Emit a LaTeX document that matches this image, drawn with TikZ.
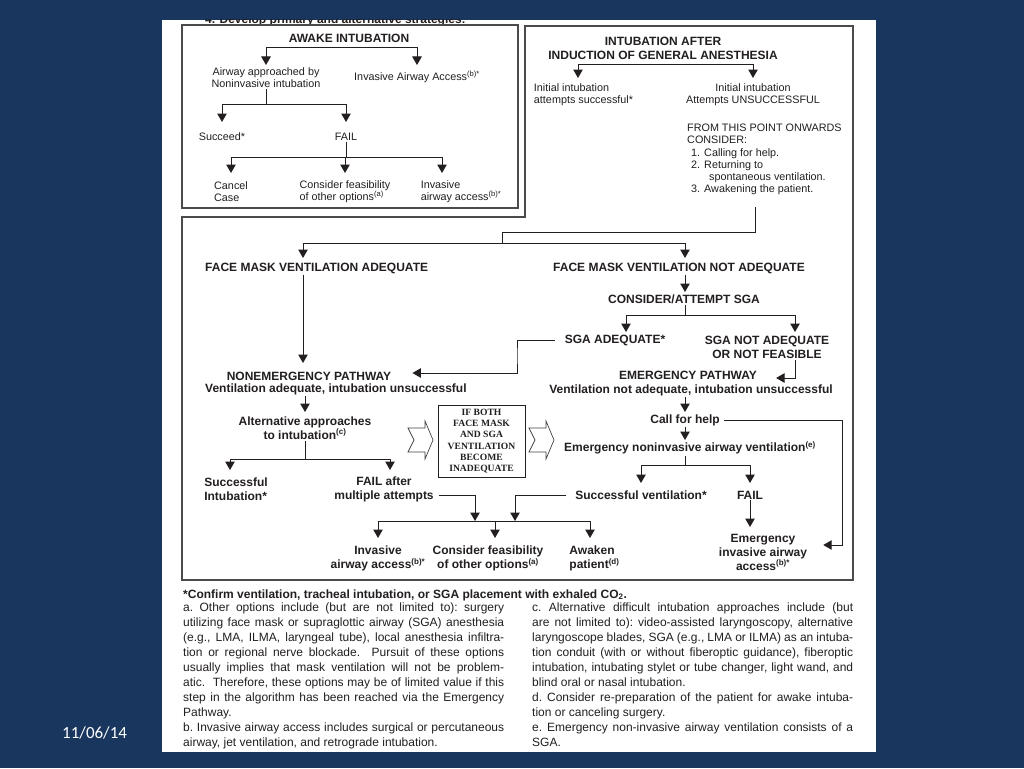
\documentclass[tikz,border=0pt]{standalone}
\usepackage{fontspec}
\setmainfont{Liberation Sans}
\newfontfamily\serifbox{Liberation Serif}
\newfontfamily\datefont{Carlito}
\usetikzlibrary{arrows.meta}
\definecolor{navy}{RGB}{24,54,94}
\definecolor{ink}{RGB}{35,31,32}
\definecolor{frame}{RGB}{75,75,75}
\begin{document}
\begin{tikzpicture}[x=1pt,y=-1pt,
  tn/.style={inner sep=1pt, text=ink, align=center, font=\fontsize{10.8}{12.2}\selectfont},
  tl/.style={tn, align=left},
  bn/.style={inner sep=1pt, text=ink, align=center, font=\bfseries\fontsize{12}{14}\selectfont},
  bl/.style={bn, align=left},
  ln/.style={draw=ink, line width=1pt},
  arr/.style={ln, -{Triangle[width=9.5pt,length=8.5pt]}},
  boxline/.style={draw=frame, line width=1.2pt},
  blk/.style={draw=ink!85, line width=0.7pt, line join=miter},
  foot/.style={inner sep=0pt, text=ink, align=justify, text width=321pt, anchor=north west, font=\fontsize{12}{14.9}\selectfont},
]
\useasboundingbox (0,0) rectangle (1024,768);
\fill[navy] (0,0) rectangle (1024,768);
\fill[white] (162,20) rectangle (876,752);
\node[anchor=west, text=white, inner sep=0pt, font=\datefont\fontsize{17}{20}\selectfont] (date) at (62,733) {11/06/14};

\begin{scope}
  \clip (162,20) rectangle (876,25);
  \node[anchor=base west, inner sep=0pt, text=ink, font=\bfseries\fontsize{12}{14}\selectfont] (hdr) at (205,23.5) {4. Develop primary and alternative strategies:};
\end{scope}

% frames
\draw[boxline] (182,25) rectangle (518,208);
\draw[boxline] (182,217) -- (525,217) -- (525,26) -- (853,26) -- (853,580) -- (182,580) -- cycle;

% tip rows
\coordinate (r1) at (0,65);
\coordinate (r2) at (0,122);
\coordinate (r3) at (0,173);
\coordinate (r4) at (0,78);
\coordinate (rA) at (0,258);
\coordinate (rB) at (0,292);
\coordinate (rC) at (0,332);
\coordinate (rD) at (0,363);
\coordinate (rE) at (0,412);
\coordinate (rF) at (0,470);
\coordinate (rG) at (0,440);
\coordinate (rH) at (0,483);
\coordinate (rI) at (0,527);
\coordinate (rJ) at (0,538);

% ---------- Box 1 : awake intubation
\node[bn] (aw) at (349,38) {AWAKE INTUBATION};
\coordinate (j1) at (349,48);
\node[tn] (ap) at (266,78) {Airway approached by\\Noninvasive intubation};
\node[tn] (iaa) at (417,77) {Invasive Airway Access\textsuperscript{(b)*}};
\draw[arr] (j1) -| (ap.north |- r1);
\draw[arr] (j1) -| (iaa.north |- r1);
\coordinate (j2) at (266,104);
\node[tn] (suc) at (222,137) {Succeed*};
\node[tn] (fail1) at (346,137) {FAIL};
\draw[ln] (ap.south) -- (j2);
\draw[arr] (j2) -| (suc.north |- r2);
\draw[arr] (j2) -| (fail1.north |- r2);
\coordinate (j3) at (346,157);
\draw[ln] (fail1.south) -- (j3);
\node[tl] (cc) at (231,192) {Cancel\\Case};
\node[tl] (cf1) at (345,192) {Consider feasibility\\of other options\textsuperscript{(a)}};
\node[tl] (ia1) at (461,192) {Invasive\\airway access\textsuperscript{(b)*}};
\coordinate (xi) at ([xshift=-19pt]ia1.center);
\draw[arr] (j3) -| (cc.north |- r3);
\draw[arr] (j3) -| (cf1.north |- r3);
\draw[arr] (j3) -| (xi |- r3);

% ---------- Box 2 : after induction
\node[bn] (ind) at (663,48.5) {INTUBATION AFTER\\INDUCTION OF GENERAL ANESTHESIA};
\coordinate (j4) at (663,64);
\node[tl] (ias) at (583.5,95) {Initial intubation\\attempts successful*};
\node[tn] (iau) at (753,95) {Initial intubation\\Attempts UNSUCCESSFUL};
\coordinate (xh) at ([xshift=-5.5pt]ias.center);
\draw[arr] (j4) -| (xh |- r4);
\draw[arr] (j4) -| (iau.north |- r4);
\node[tl, anchor=north west] (fr) at (686,123) {FROM THIS POINT ONWARDS\\CONSIDER:\\\hspace*{4pt}1. Calling for help.\\\hspace*{4pt}2. Returning to\\\hspace*{22pt}spontaneous ventilation.\\\hspace*{4pt}3. Awakening the patient.};
\coordinate (xg) at ([xshift=69pt,yshift=-11pt]fr.south west);
\coordinate (j5) at (502,232);
\coordinate (j6) at (502,243);
\draw[ln] (xg) |- (j5) -- (j6);

% ---------- Box 3
\node[bn, anchor=west] (fma) at (204,268) {FACE MASK VENTILATION ADEQUATE};
\node[bn] (fmn) at (679,268) {FACE MASK VENTILATION NOT ADEQUATE};
\coordinate (xa) at ([xshift=99pt]fma.west);
\coordinate (xb) at ([xshift=6pt]fmn.center);
\draw[arr] (j6) -| (xa |- rA);
\draw[arr] (j6) -| (xb |- rA);

\node[bn] (sga) at (684,299) {CONSIDER/ATTEMPT SGA};
\draw[arr] (xb |- fmn.south) -- (xb |- rB);
\coordinate (j7) at (685,315);
\draw[ln] (xb |- sga.south) -- (j7);
\node[bn] (sgaa) at (615,340) {SGA ADEQUATE*};
\node[bn] (sgan) at (767,347.5) {SGA NOT ADEQUATE\\OR NOT FEASIBLE};
\coordinate (xc) at ([xshift=11pt]sgaa.center);
\coordinate (xd) at ([xshift=28pt]sgan.center);
\draw[arr] (j7) -| (xc |- rC);
\draw[arr] (j7) -| (xd |- rC);

\node[bn] (ep) at (688,375) {EMERGENCY PATHWAY};
\node[bn] (ep2) at (691,390) {Ventilation not adequate, intubation unsuccessful};
\draw[arr] (xd |- sgan.south) |- ([xshift=18pt,yshift=-3pt]ep.east);

\node[bn] (ne) at (309,376) {NONEMERGENCY PATHWAY};
\node[bn, anchor=west] (ne2) at (204,389) {Ventilation adequate, intubation unsuccessful};
\draw[arr] (xa |- fma.south) -- (xa |- rD);
\coordinate (j8) at (517,355);
\draw[arr] ([xshift=-9pt]sgaa.west) -| (j8) |- ([xshift=20pt,yshift=3pt]ne.east);

% nonemergency branch
\node[bn] (alt) at (305,428) {Alternative approaches\\to intubation\textsuperscript{(c)}};
\draw[arr] (alt.north |- ne2.south) -- (alt.north |- rE);
\coordinate (j9) at (305,459);
\draw[ln] (alt.south) -- (j9);
\node[bl] (si) at (236,489) {Successful\\Intubation*};
\node[bn] (fam) at (384,489) {FAIL after\\multiple attempts};
\coordinate (xe) at ([xshift=-6pt]si.center);
\coordinate (xf) at ([xshift=6pt]fam.center);
\draw[arr] (j9) -| (xe |- rF);
\draw[arr] (j9) -| (xf |- rF);

% middle box and block arrows
\node[draw=ink, line width=0.8pt, minimum width=87pt, minimum height=72pt, inner sep=0pt, align=center, text=ink,
      font=\serifbox\bfseries\fontsize{9.6}{11.2}\selectfont] (ib) at (481.5,441)
      {IF BOTH\\FACE MASK\\AND SGA\\VENTILATION\\BECOME\\INADEQUATE};
\coordinate (ba1) at (433,440);
\coordinate (ba2) at (554,440);
\foreach \t in {ba1,ba2}
  \draw[blk] (\t) ++(-25,-12) -- ++(17,0) -- ++(0,-7) -- (\t) -- ++(-8,19) -- ++(0,-7) -- ++(-17,0) -- ++(6,-12) -- cycle;

% emergency branch
\node[bn] (cfh) at (685,420) {Call for help};
\draw[arr] (cfh.north |- ep2.south) -- (cfh.north |- rE);
\node[bn] (ena) at (690,448) {Emergency noninvasive airway ventilation\textsuperscript{(e)}};
\draw[arr] (cfh.south) -- (cfh.south |- rG);
\coordinate (j11) at (685,465);
\draw[ln] (cfh.south |- ena.south) -- (j11);
\node[bn] (sv) at (641,495) {Successful ventilation*};
\node[bn] (fl2) at (750,495) {FAIL};
\draw[arr] (j11) -| (sv.north |- rH);
\draw[arr] (j11) -| (fl2.north |- rH);
\node[bn] (eia) at (763,552) {Emergency\\invasive airway\\access\textsuperscript{(b)*}};
\draw[arr] (fl2.south) -- (fl2.south |- rI);
\coordinate (jC) at (842,480);
\draw[arr] ([xshift=3pt]cfh.east) -| (jC) |- ([xshift=15pt,yshift=7pt]eia.east);

% bottom row
\coordinate (barL) at (378,521);
\coordinate (barR) at (590,521);
\coordinate (jL) at (475,521);
\coordinate (jR) at (515,521);
\coordinate (jb) at (495,521);
\draw[ln] (barL) -- (barR);
\draw[arr] ([xshift=4pt,yshift=-6pt]fam.east) -| (jL);
\draw[arr] ([xshift=-8pt]sv.west) -| (jR);
\node[bn] (iab) at (378,558.5) {Invasive\\airway access\textsuperscript{(b)*}};
\node[bn] (cfb) at (488,558.5) {Consider feasibility\\of other options\textsuperscript{(a)}};
\node[bl] (awp) at (594.5,558.5) {Awaken\\patient\textsuperscript{(d)}};
\draw[arr] (barL) -- (iab.north |- rJ);
\draw[arr] (jb) -- (jb |- rJ);
\draw[arr] (barR) -- (barR |- rJ);

% ---------- footnotes
\node[anchor=base west, inner sep=0pt, text=ink, font=\bfseries\fontsize{12}{14}\selectfont] (cfm) at (183,598) {*Confirm ventilation, tracheal intubation, or SGA placement with exhaled CO\textsubscript{2}.};
\node[foot] (fa) at (183,603) {\frenchspacing\tolerance=9999\hyphenpenalty=10000 a. Other options include (but are not limited to): surgery\linebreak utilizing face mask or supraglottic airway (SGA) anesthesia\linebreak (e.g., LMA, ILMA, laryngeal tube), local anesthesia infiltra-\linebreak tion or regional nerve blockade.\ \ Pursuit of these options\linebreak usually implies that mask ventilation will not be problem-\linebreak atic.\ \ Therefore, these options may be of limited value if this\linebreak step in the algorithm has been reached via the Emergency\linebreak Pathway.\\ b. Invasive airway access includes surgical or percutaneous\linebreak airway, jet ventilation, and retrograde intubation.};
\node[foot] (fc) at (532,603) {\frenchspacing\tolerance=9999\hyphenpenalty=10000 c. Alternative difficult intubation approaches include (but\linebreak are not limited to): video-assisted laryngoscopy, alternative\linebreak laryngoscope blades, SGA (e.g., LMA or ILMA) as an intuba-\linebreak tion conduit (with or without fiberoptic guidance), fiberoptic\linebreak intubation, intubating stylet or tube changer, light wand, and\linebreak blind oral or nasal intubation.\\ d. Consider re-preparation of the patient for awake intuba-\linebreak tion or canceling surgery.\\ e. Emergency non-invasive airway ventilation consists of a\linebreak SGA.};
\end{tikzpicture}
\end{document}
